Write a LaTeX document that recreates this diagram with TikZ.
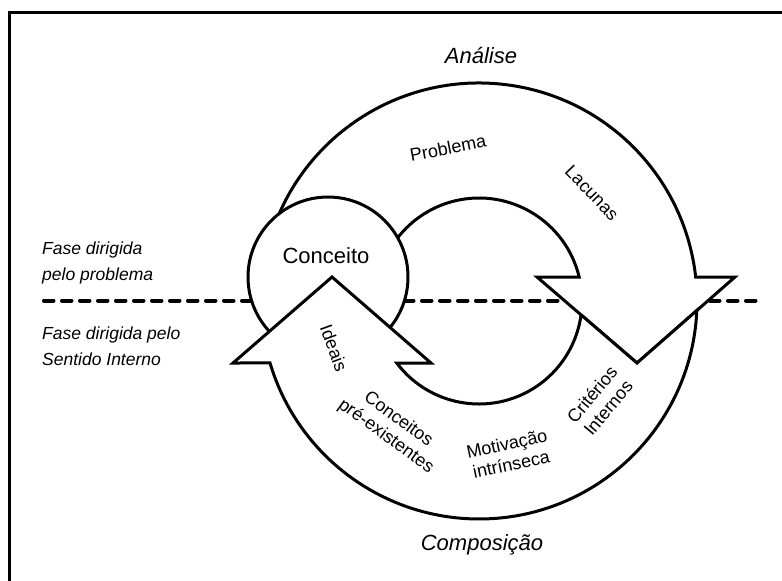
\documentclass[tikz,border=0pt]{standalone}
\usepackage{fontspec}
\setmainfont{Liberation Sans}
\usetikzlibrary{calc}
\begin{document}
\begin{tikzpicture}[x=1pt,y=1pt,
  shapeline/.style={draw=black, line width=3pt, fill=white, line join=miter},
  biglabel/.style={font=\fontsize{22}{26}\selectfont\itshape, inner sep=0pt},
  sidelabel/.style={font=\fontsize{17.5}{26}\selectfont\itshape, align=left, anchor=west, inner sep=0pt},
  bandlabel/.style={font=\fontsize{18}{21}\selectfont, align=center, inner sep=0pt},
]
\useasboundingbox (0,0) rectangle (782,-581);

% frame (only top and left edges fall inside the page)
\coordinate (frameBL) at (9.5,-590);
\coordinate (frameTL) at (9.5,-12.5);
\coordinate (frameTR) at (790,-12.5);
\draw[line width=3pt] (frameBL) -- (frameTL) -- (frameTR);

% phase boundary
\coordinate (dashL) at (44,-300.5);
\coordinate (dashR) at (763,-300.5);
\draw[line width=4pt, dash pattern=on 9.5pt off 8.5pt, line cap=round] (dashL) -- (dashR);

% ring centre
\coordinate (C) at (479,-301);

% upper curved arrow (analysis), ending in the downward head on the right
\draw[shapeline] ($(C)+(170:218)$) arc[start angle=170, end angle=6.32, radius=218]
  -- (735,-277) -- (637,-363) -- (537,-277)
  -- ($(C)+(13.47:103)$) arc[start angle=13.47, end angle=170, radius=103] -- cycle;

% concept circle
\node[shapeline, circle, minimum size=160pt, inner sep=0pt] (conceito) at (328,-277) {};
\node[font=\fontsize{22}{26}\selectfont, inner sep=0pt] (conceitoText) at (326,-256) {Conceito};

% lower curved arrow (composition), starting under the right head and ending in the upward head
\draw[shapeline] (581.1,-314.9) -- (637,-363) -- (696.8,-310.5)
  arc[start angle=-2.5, end angle=-163.48, radius=218]
  -- (233,-363) -- (332,-277) -- (431,-363)
  -- (396.75,-363) arc[start angle=-142.99, end angle=-7.75, radius=103] -- cycle;

% labels
\node[biglabel] (analise) at (481,-56) {Análise};
\node[biglabel] (composicao) at (482,-545) {Composição};

\node[bandlabel, rotate=11] (problema) at (448,-148) {Problema};
\node[bandlabel, rotate=-46] (lacunas) at (592,-193) {Lacunas};
\node[bandlabel, rotate=-70] (ideais) at (334,-348) {Ideais};
\node[bandlabel, rotate=-36] (conceitos) at (392,-428) {Conceitos\\pré-existentes};
\node[bandlabel, rotate=12] (motivacao) at (509,-454) {Motivação\\intrínseca};
\node[bandlabel, rotate=50] (criterios) at (600,-401) {Critérios\\Internos};

\node[sidelabel] (faseProblema) at (42,-263) {Fase dirigida\\pelo problema};
\node[sidelabel] (faseInterno) at (42,-346) {Fase dirigida pelo\\Sentido Interno};
\end{tikzpicture}
\end{document}
